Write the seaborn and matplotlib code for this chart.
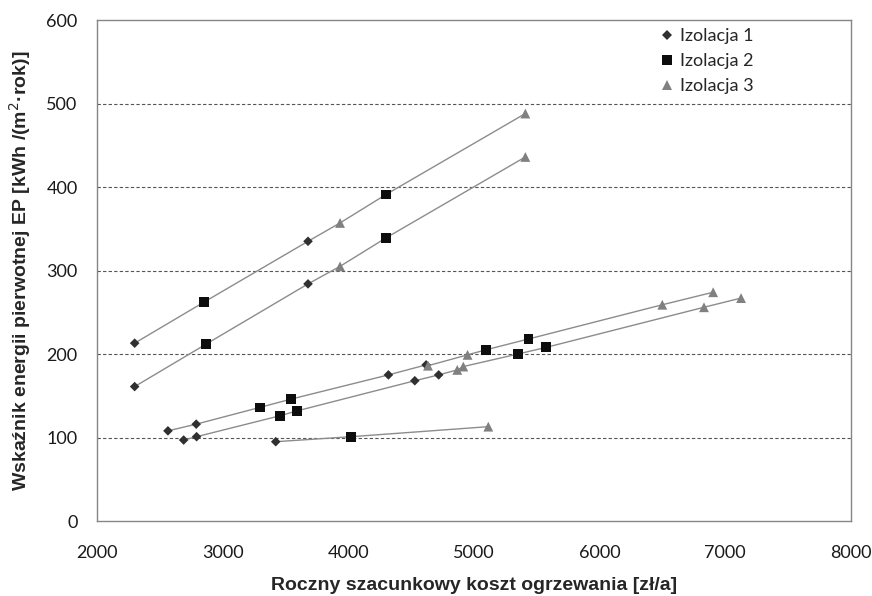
import pandas as pd
import numpy as np
import matplotlib
matplotlib.use("Agg")
import matplotlib.pyplot as plt
import seaborn as sns

# koszt [zl/a], EP, rodzaj izolacji (1/2/3) dla kazdej linii
linia_1_koszt = [2300, 2850, 3680, 3935, 4300, 5410]
linia_1_ep = [213, 262, 335, 357, 391, 488]
linia_1_izol = [1, 2, 1, 3, 2, 3]

linia_2_koszt = [2300, 2870, 3680, 3935, 4300, 5410]
linia_2_ep = [161, 212, 284, 305, 339, 436]
linia_2_izol = [1, 2, 1, 3, 2, 3]

linia_3_koszt = [2565, 2790, 3295, 3545, 4320, 4620, 4635, 4950, 5095, 5435, 6500, 6905]
linia_3_ep = [108, 116, 136, 146, 175, 187, 186, 199, 205, 218, 259, 274]
linia_3_izol = [1, 1, 2, 2, 1, 1, 3, 3, 2, 2, 3, 3]

linia_4_koszt = [2690, 2793, 3455, 3595, 4530, 4720, 4868, 4916, 5350, 5577, 6832, 7127]
linia_4_ep = [97, 101, 126, 132, 168, 175, 181, 185, 200, 208, 256, 267]
linia_4_izol = [1, 1, 2, 2, 1, 1, 3, 3, 2, 2, 3, 3]

linia_5_koszt = [3423, 4024, 5115]
linia_5_ep = [95, 101, 113]
linia_5_izol = [1, 2, 3]

nazwy_izolacji = ["Izolacja 1", "Izolacja 2", "Izolacja 3"]

frames = []
for nr, (k, e, iz) in enumerate([(linia_1_koszt, linia_1_ep, linia_1_izol),
                                 (linia_2_koszt, linia_2_ep, linia_2_izol),
                                 (linia_3_koszt, linia_3_ep, linia_3_izol),
                                 (linia_4_koszt, linia_4_ep, linia_4_izol),
                                 (linia_5_koszt, linia_5_ep, linia_5_izol)]):
    frames.append(pd.DataFrame({"koszt": k, "ep": e,
                                "izolacja": [nazwy_izolacji[i - 1] for i in iz],
                                "linia": nr}))
dane = pd.concat(frames, ignore_index=True)

sns.set_style("white")
plt.rcParams['font.family'] = ['Lato', 'DejaVu Sans']

fig = plt.figure(figsize=(8.72, 5.96), dpi=100)
ax = fig.add_axes([0.1112, 0.1258, 0.8644, 0.8406])

sns.lineplot(data=dane, x="koszt", y="ep", units="linia", estimator=None,
             sort=False, color="#8c8c8c", linewidth=1.0, ax=ax, legend=False)

sns.scatterplot(data=dane, x="koszt", y="ep", hue="izolacja", style="izolacja", size="izolacja",
                hue_order=nazwy_izolacji, style_order=nazwy_izolacji, size_order=nazwy_izolacji,
                palette={"Izolacja 1": "#303030", "Izolacja 2": "#0d0d0d", "Izolacja 3": "#808080"},
                markers={"Izolacja 1": "D", "Izolacja 2": "s", "Izolacja 3": "^"},
                sizes={"Izolacja 1": 24, "Izolacja 2": 50, "Izolacja 3": 50},
                linewidth=0, ax=ax, zorder=3)

ax.set_xlim(2000, 8000)
ax.set_ylim(0, 600)
ax.set_xticks(np.arange(2000, 8001, 1000))
ax.set_yticks(np.arange(0, 601, 100))
for yv in range(100, 600, 100):
    ax.axhline(yv, color="#555555", linestyle=(0, (3, 2)), linewidth=0.8, zorder=0)

for s in ax.spines.values():
    s.set_color("#868686")
    s.set_linewidth(1.0)
ax.tick_params(axis="both", direction="out", length=5, width=1, color="#868686",
               labelsize=13, labelcolor="#1a1a1a")
ax.tick_params(axis="x", pad=12)
ax.tick_params(axis="y", pad=9)

ax.set_xlabel("Roczny szacunkowy koszt ogrzewania [zł/a]", fontsize=14,
              fontweight="bold", family=["Liberation Sans", "DejaVu Sans"])
ax.set_ylabel("Wskaźnik energii pierwotnej EP [kWh /(m$^2$·rok)]", fontsize=14,
              fontweight="bold", family=["Liberation Sans", "DejaVu Sans"])
ax.xaxis.set_label_coords(0.5, -0.112)
ax.yaxis.set_label_coords(-0.085, 0.5)

h, l = ax.get_legend_handles_labels()
leg_ms = [5, 7, 7.5]
for hd, ms in zip(h, leg_ms):
    if hasattr(hd, "set_markersize"):
        hd.set_markersize(ms)
    else:
        hd.set_sizes([ms ** 2])
ax.legend(h, l, loc="upper left", bbox_to_anchor=(660 / 872, 1 - 28 / 596),
          bbox_transform=fig.transFigure, frameon=False, fontsize=13,
          handlelength=0.8, handletextpad=0.3, labelspacing=0.5,
          borderaxespad=0, borderpad=0)

fig.savefig("out.png", dpi=100)
